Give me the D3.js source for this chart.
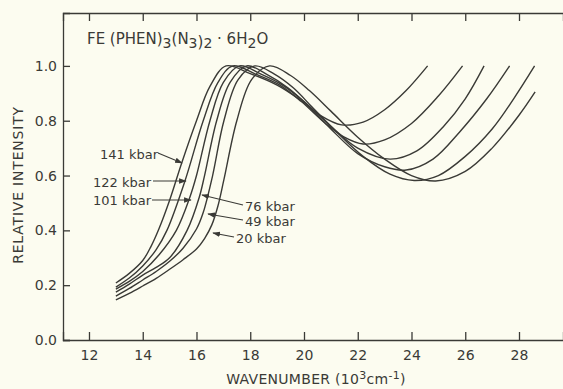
<!DOCTYPE html>
<html>
<head>
<meta charset="utf-8">
<script src="https://cdn.jsdelivr.net/npm/d3@7"></script>
<style>
  html, body { margin: 0; padding: 0; background: #fcfcf0; }
  svg { display: block; }
  text { font-family: "DejaVu Sans", sans-serif; fill: #3a3a36; }
</style>
</head>
<body>
<svg id="chart" width="563" height="389"></svg>
<script>
// ---- data ----
const pressures = ["141 kbar", "122 kbar", "101 kbar", "76 kbar", "49 kbar", "20 kbar"];
const xTicks = [12, 14, 16, 18, 20, 22, 24, 26, 28];
const yTicks = [0.0, 0.2, 0.4, 0.6, 0.8, 1.0];

// [wavenumber (10^3 cm^-1), relative intensity]
const s141 = [[13,0.208],[13.5,0.243],[14,0.29],[14.3,0.34],[14.6,0.405],[15.0,0.51],[15.45,0.646],[16.0,0.80],[16.5,0.925],[17.1,1.0],[18.0,0.972],[19.0,0.93],[19.8,0.88],[20.6,0.82],[21.4,0.785],[22.2,0.795],[23.0,0.84],[23.8,0.91],[24.6,1.0]];
const s122 = [[13,0.193],[13.5,0.226],[14,0.27],[14.5,0.33],[14.9,0.40],[15.57,0.58],[16.25,0.80],[16.8,0.94],[17.35,1.0],[18.2,0.97],[19.1,0.93],[19.9,0.87],[20.8,0.79],[21.5,0.74],[22.2,0.715],[23.0,0.73],[24.0,0.79],[25.0,0.89],[25.9,1.0]];
const s101 = [[13,0.186],[13.5,0.214],[14,0.25],[14.6,0.31],[15.25,0.40],[15.75,0.52],[16.0,0.60],[16.5,0.80],[17.0,0.94],[17.6,1.0],[18.4,0.97],[19.2,0.93],[20.0,0.87],[21.0,0.78],[22.0,0.70],[23.2,0.66],[24.2,0.69],[25.2,0.78],[26.0,0.88],[26.7,1.0]];
const s76 = [[13,0.175],[13.5,0.204],[14,0.237],[14.5,0.265],[15.0,0.30],[15.65,0.40],[16.1,0.52],[16.3,0.60],[16.75,0.80],[17.25,0.94],[17.87,1.0],[18.6,0.97],[19.4,0.92],[20.1,0.86],[21.0,0.77],[22.0,0.68],[23.0,0.632],[23.8,0.62],[24.8,0.66],[25.8,0.76],[26.8,0.88],[27.65,1.0]];
const s49 = [[13,0.160],[13.5,0.188],[14,0.219],[14.5,0.25],[15.0,0.287],[15.5,0.335],[16.0,0.405],[16.25,0.465],[16.6,0.60],[17.02,0.80],[17.55,0.95],[18.17,1.0],[18.9,0.97],[19.6,0.92],[20.3,0.85],[21.2,0.76],[22.2,0.67],[23.2,0.605],[24.1,0.582],[25.0,0.60],[26.0,0.67],[27.0,0.77],[27.8,0.88],[28.58,1.0]];
const s20 = [[13,0.146],[13.5,0.17],[14,0.197],[14.5,0.225],[15.0,0.258],[15.5,0.293],[16.0,0.332],[16.3,0.37],[16.57,0.42],[16.8,0.49],[17.02,0.585],[17.5,0.80],[18.05,0.95],[18.72,1.0],[19.5,0.965],[20.2,0.91],[21.0,0.835],[22.0,0.74],[23.0,0.66],[24.0,0.60],[24.9,0.58],[26.0,0.615],[27.0,0.70],[28.0,0.82],[28.6,0.905]];
const series = [s141, s122, s101, s76, s49, s20];

// ---- layout ----
const svg = d3.select("#chart");
const W = 563, H = 389;
const x = d3.scaleLinear().domain([11.033, 29.637]).range([63, 563]);
const y = d3.scaleLinear().domain([0, 1.193]).range([340, 13]);
const ink = "#3a3a36";

svg.append("rect").attr("width", W).attr("height", H).attr("fill", "#fcfcf0");

// axes
const gx = svg.append("g").attr("transform", "translate(0,340)")
  .call(d3.axisBottom(x).tickValues(xTicks).tickSize(-8).tickPadding(10).tickFormat(d3.format("d")));
const gxt = svg.append("g").attr("transform", "translate(0,13)")
  .call(d3.axisTop(x).tickValues(xTicks).tickSize(-8).tickFormat(""));
const gy = svg.append("g").attr("transform", "translate(63,0)")
  .call(d3.axisLeft(y).tickValues(yTicks).tickSize(-7).tickPadding(6).tickFormat(d3.format(".1f")));
[gx, gxt, gy].forEach(g => {
  g.select(".domain").attr("stroke", ink).attr("stroke-width", 1.3);
  g.selectAll(".tick line").attr("stroke", ink).attr("stroke-width", 1.3);
  g.selectAll(".tick text").attr("fill", ink).style("font-size", "14px")
    .style("font-family", '"DejaVu Sans", sans-serif');
});
gx.selectAll(".tick text").attr("dy", "0.71em");

// curves
const line = d3.line().x(d => x(d[0])).y(d => y(d[1])).curve(d3.curveCatmullRom.alpha(0.5));
svg.append("g").selectAll("path").data(series).join("path")
  .attr("d", line).attr("fill", "none").attr("stroke", ink).attr("stroke-width", 1.4);

// title
const t = svg.append("text").attr("x", 87).attr("y", 44).style("font-size", "15px");
t.append("tspan").text("FE (PHEN)");
t.append("tspan").attr("dy", 4).style("font-size", "14px").text("3");
t.append("tspan").attr("dy", -4).text("(N");
t.append("tspan").attr("dy", 4).style("font-size", "14px").text("3");
t.append("tspan").attr("dy", -1).text(")");
t.append("tspan").attr("dy", 1).style("font-size", "14px").text("2");
t.append("tspan").attr("dy", -4).text(" \u00B7 6H");
t.append("tspan").attr("dy", 4).style("font-size", "14px").text("2");
t.append("tspan").attr("dy", -4).text("O");

// axis titles
const xt = svg.append("text").attr("x", 316).attr("y", 384).attr("text-anchor", "middle")
  .style("font-size", "14px").style("letter-spacing", "0.3px");
xt.append("tspan").text("WAVENUMBER (10");
xt.append("tspan").attr("dy", -5).style("font-size", "11px").text("3");
xt.append("tspan").attr("dy", 5).text("cm");
xt.append("tspan").attr("dy", -5).style("font-size", "11px").text("-1");
xt.append("tspan").attr("dy", 5).text(")");

svg.append("text").attr("transform", "translate(23,185) rotate(-90)")
  .attr("text-anchor", "middle").style("font-size", "14px").style("letter-spacing", "0.8px")
  .text("RELATIVE INTENSITY");

// pressure labels with leader lines
svg.append("defs").append("marker").attr("id", "ah").attr("viewBox", "0 0 10 10")
  .attr("refX", 9).attr("refY", 5).attr("markerWidth", 7).attr("markerHeight", 7)
  .attr("orient", "auto").append("path").attr("d", "M0,1.5 L10,5 L0,8.5 Z").attr("fill", ink);

const ann = [
  {lab: 0, tx: 100, ty: 154, from: [158, 153], to: [182, 163]},
  {lab: 1, tx: 93, ty: 182, from: [153, 181], to: [186, 181]},
  {lab: 2, tx: 93, ty: 200, from: [152, 200], to: [191, 200]},
  {lab: 3, tx: 245, ty: 206, from: [243, 205], to: [202, 195]},
  {lab: 4, tx: 245, ty: 221, from: [243, 220], to: [208, 214]},
  {lab: 5, tx: 236, ty: 238, from: [234, 237], to: [213, 233]}
];
ann.forEach(a => {
  svg.append("text").attr("x", a.tx).attr("y", a.ty).attr("dy", "0.36em")
    .style("font-size", "13px").text(pressures[a.lab]);
  svg.append("line").attr("x1", a.from[0]).attr("y1", a.from[1]).attr("x2", a.to[0]).attr("y2", a.to[1])
    .attr("stroke", ink).attr("stroke-width", 1.1).attr("marker-end", "url(#ah)");
});
</script>
</body>
</html>
